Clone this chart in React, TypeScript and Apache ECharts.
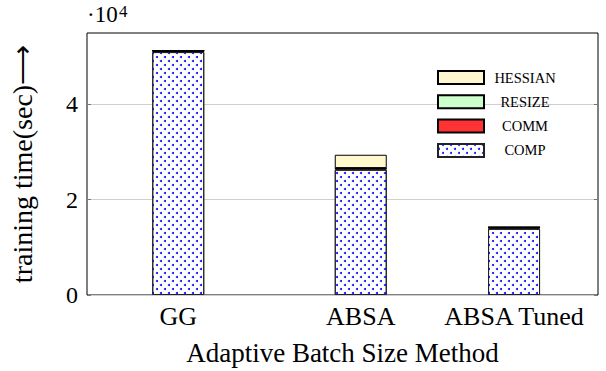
import React, { useEffect, useRef } from "react";
import * as echarts from "echarts";

const categories = ["GG", "ABSA", "ABSA Tuned"];
// slot of each method on a finely divided category axis (the original spacing is uneven)
const slotCount = 70;
const slotIndex = [12, 37, 58];
const compValues = [51000, 26300, 13900];
const commValues = [250, 300, 300];
const resizeValues = [30, 40, 30];
const hessianValues = [0, 2800, 0];
const yTicks = [0, 20000, 40000];
const legendOrder = ["HESSIAN", "RESIZE", "COMM", "COMP"];

const FONT = "Liberation Serif";

export default function App() {
  const ref = useRef<HTMLDivElement>(null);
  useEffect(() => {
    document.body.style.margin = "0";
    const chart = echarts.init(ref.current!, null, { renderer: "svg" });
    const slots: string[] = [];
    for (let i = 0; i < slotCount; i++) {
      const k = slotIndex.indexOf(i);
      slots.push(k >= 0 ? categories[k] : "");
    }
    const mk = (vals: number[]) =>
      slots.map((_, i) => {
        const k = slotIndex.indexOf(i);
        return k >= 0 ? vals[k] : "-";
      });
    const isSlot = (i: number) => slotIndex.indexOf(i) >= 0;
    const base = {
      type: "bar",
      stack: "total",
      barWidth: 52,
    };
    const xCommon = {
      type: "category",
      data: slots,
      boundaryGap: true,
      axisLine: { show: false },
      splitLine: { show: false },
      axisTick: {
        inside: true,
        length: 4,
        alignWithLabel: true,
        interval: (i: number) => isSlot(i),
        lineStyle: { color: "#777" },
      },
    };
    chart.setOption({
      animation: false,
      textStyle: { fontFamily: FONT },
      grid: {
        left: 84,
        right: 8,
        top: 33,
        bottom: 76,
        show: true,
        borderColor: "#000",
        borderWidth: 1,
        backgroundColor: "transparent",
      },
      graphic: [
        { type: "text", left: 87, top: 3, style: { text: "·10", fontFamily: FONT, fontSize: 23, fill: "#000" } },
        { type: "text", left: 119, top: 3, style: { text: "4", fontFamily: FONT, fontSize: 17, fill: "#000" } },
      ],
      legend: {
        orient: "vertical",
        left: 432,
        top: 65,
        icon: "rect",
        itemWidth: 46,
        itemHeight: 13,
        itemGap: 9.3,
        data: legendOrder,
        formatter: "{c|{name}}",
        textStyle: {
          fontFamily: FONT,
          fontSize: 14,
          color: "#000",
          rich: {
            c: { fontFamily: FONT, fontSize: 14.5, color: "#000", width: 72, align: "center" },
          },
        },
      },
      xAxis: [
        {
          ...xCommon,
          name: "Adaptive Batch Size Method",
          nameLocation: "middle",
          nameGap: 44,
          nameTextStyle: { fontFamily: FONT, fontSize: 27, color: "#000" },
          axisLabel: {
            interval: (i: number) => isSlot(i),
            fontFamily: FONT,
            fontSize: 26,
            color: "#000",
            margin: 8,
          },
        },
        {
          ...xCommon,
          position: "top",
          axisLabel: { show: false },
        },
      ],
      yAxis: [
        {
          type: "value",
          min: 0,
          max: 55000,
          interval: 20000,
          name: "training time(sec)⟶",
          nameLocation: "middle",
          nameGap: 51,
          nameTextStyle: { fontFamily: FONT, fontSize: 28, color: "#000" },
          axisLine: { show: false },
          axisTick: { show: true, inside: true, length: 4, lineStyle: { color: "#777" }, customValues: yTicks },
          splitLine: { show: true, lineStyle: { color: "#cfcfcf", width: 1 } },
          axisLabel: {
            customValues: yTicks,
            fontFamily: FONT,
            fontSize: 24,
            color: "#000",
            margin: 9,
            formatter: (v: number) => String(v / 10000),
          },
        },
        {
          type: "value",
          position: "right",
          min: 0,
          max: 55000,
          interval: 20000,
          axisLine: { show: false },
          axisTick: { show: true, inside: true, length: 4, lineStyle: { color: "#777" }, customValues: yTicks },
          splitLine: { show: false },
          axisLabel: { show: false },
        },
      ],
      series: [
        {
          ...base,
          name: "COMP",
          data: mk(compValues),
          itemStyle: {
            color: "#ffffff",
            borderColor: "#222",
            borderWidth: 1,
            decal: {
              symbol: "circle",
              symbolSize: 1,
              color: "#0000ff",
              backgroundColor: "#ffffff",
              dashArrayX: [[2, 6], [0, 4, 2, 2]],
              dashArrayY: [2, 2],
              rotation: 0,
            },
          },
        },
        {
          ...base,
          name: "COMM",
          data: mk(commValues),
          itemStyle: { color: "#ff3333", borderColor: "#000", borderWidth: 1 },
        },
        {
          ...base,
          name: "RESIZE",
          data: mk(resizeValues),
          itemStyle: { color: "#ccffcc", borderColor: "#000", borderWidth: 1 },
        },
        {
          ...base,
          name: "HESSIAN",
          data: mk(hessianValues),
          itemStyle: { color: "#fff8cf", borderColor: "#000", borderWidth: 1 },
        },
      ],
    });
    return () => chart.dispose();
  }, []);
  return <div ref={ref} style={{ width: 606, height: 371 }} />;
}
